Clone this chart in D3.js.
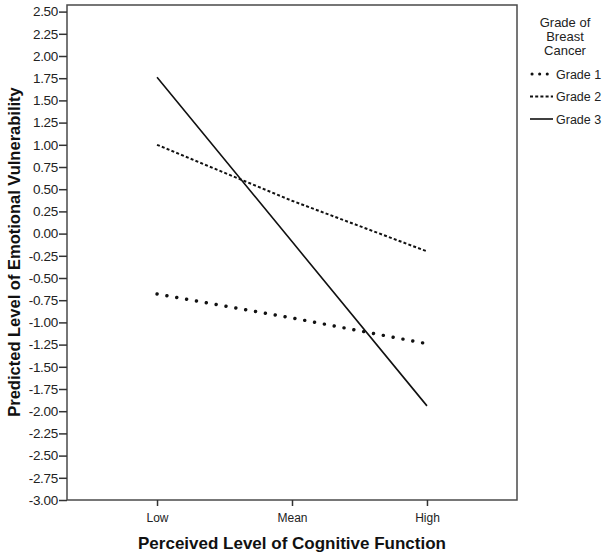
<!DOCTYPE html>
<html>
<head>
<meta charset="utf-8">
<script src="https://cdn.jsdelivr.net/npm/d3@7"></script>
<style>
body { margin: 0; background: #fff; }
svg { font-family: Arial, "Liberation Sans", sans-serif; }
</style>
</head>
<body>
<div id="chart"></div>
<script>

// data ----------------------------------------------------------
var levels = ["Low", "Mean", "High"];
var grade1 = [-0.68, -0.95, -1.24];
var grade2 = [1.00, 0.37, -0.20];
var grade3 = [1.76, -0.09, -1.94];
var seriesNames = ["Grade 1", "Grade 2", "Grade 3"];
var yTicks = d3.range(-3, 2.51, 0.25);

// setup ---------------------------------------------------------
var W = 603, H = 556;
var plot = {left: 67, top: 5, right: 517, bottom: 500};

var svg = d3.select("#chart").append("svg")
  .attr("width", W)
  .attr("height", H);

var x = d3.scalePoint()
  .domain(levels)
  .range([plot.left, plot.right])
  .padding(0.667);

var y = d3.scaleLinear()
  .domain([-3, 2.5])
  .range([plot.bottom, 11.6]);

// frame
svg.append("rect")
  .attr("x", plot.left)
  .attr("y", plot.top)
  .attr("width", plot.right - plot.left)
  .attr("height", plot.bottom - plot.top)
  .attr("fill", "none")
  .attr("stroke", "#4a4a4a")
  .attr("stroke-width", 1.5);

// y axis
var yAxis = svg.append("g")
  .attr("transform", "translate(" + plot.left + ",0)")
  .call(d3.axisLeft(y).tickValues(yTicks).tickSize(8).tickPadding(1)
    .tickFormat(d3.format(".2f")));
yAxis.select(".domain").remove();
yAxis.selectAll("line").attr("stroke", "#333").attr("stroke-width", 1.5);
yAxis.selectAll("text").attr("font-size", 13.5).attr("fill", "#222")
  .attr("letter-spacing", -0.3)
  .attr("font-family", "Arial, 'Liberation Sans', sans-serif")
  .text(function(d){ return d3.format(".2f")(d).replace("−", "-"); });

// x axis
var xAxis = svg.append("g")
  .attr("transform", "translate(0," + plot.bottom + ")")
  .call(d3.axisBottom(x).tickSize(6).tickPadding(7));
xAxis.select(".domain").remove();
xAxis.selectAll("line").attr("stroke", "#333").attr("stroke-width", 1.5);
xAxis.selectAll("text").attr("font-size", 12).attr("fill", "#222")
  .attr("font-family", "Arial, 'Liberation Sans', sans-serif");

// axis titles
svg.append("text")
  .attr("x", 292)
  .attr("y", 549)
  .attr("text-anchor", "middle")
  .attr("font-size", 17)
  .attr("font-weight", "bold")
  .attr("fill", "#111")
  .text("Perceived Level of Cognitive Function");

svg.append("text")
  .attr("transform", "translate(20,252) rotate(-90)")
  .attr("text-anchor", "middle")
  .attr("font-size", 16.5)
  .attr("font-weight", "bold")
  .attr("fill", "#111")
  .text("Predicted Level of Emotional Vulnerability");

// lines
var styles = [
  {width: 3.4, dash: "0.1,9.9", cap: "round"},
  {width: 2, dash: "3,2.2", cap: "butt"},
  {width: 1.6, dash: null, cap: "butt"}
];
var series = [grade1, grade2, grade3];

var line = d3.line()
  .x(function(d, i){ return x(levels[i]); })
  .y(function(d){ return y(d); });

svg.selectAll("path.series")
  .data(series)
  .enter().append("path")
  .attr("class", "series")
  .attr("d", line)
  .attr("fill", "none")
  .attr("stroke", "#111")
  .attr("stroke-width", function(d, i){ return styles[i].width; })
  .attr("stroke-dasharray", function(d, i){ return styles[i].dash; })
  .attr("stroke-linecap", function(d, i){ return styles[i].cap; });

// legend
var legend = svg.append("g");
["Grade of", "Breast", "Cancer"].forEach(function(t, i){
  legend.append("text")
    .attr("x", 565)
    .attr("y", 27 + i * 14)
    .attr("text-anchor", "middle")
    .attr("font-size", 13)
    .attr("fill", "#222")
    .text(t);
});

seriesNames.forEach(function(name, i){
  var ly = 74 + i * 22.5;
  legend.append("line")
    .attr("x1", i == 0 ? 532 : 530)
    .attr("x2", 553)
    .attr("y1", ly)
    .attr("y2", ly)
    .attr("stroke", "#111")
    .attr("stroke-width", i == 0 ? 3 : (i == 1 ? 1.8 : 1.6))
    .attr("stroke-dasharray", i == 0 ? "0.1,7.5" : styles[i].dash)
    .attr("stroke-linecap", styles[i].cap);
  legend.append("text")
    .attr("x", 556)
    .attr("y", ly + 4.5)
    .attr("font-size", 12.5)
    .attr("fill", "#222")
    .text(name);
});

</script>
</body>
</html>
